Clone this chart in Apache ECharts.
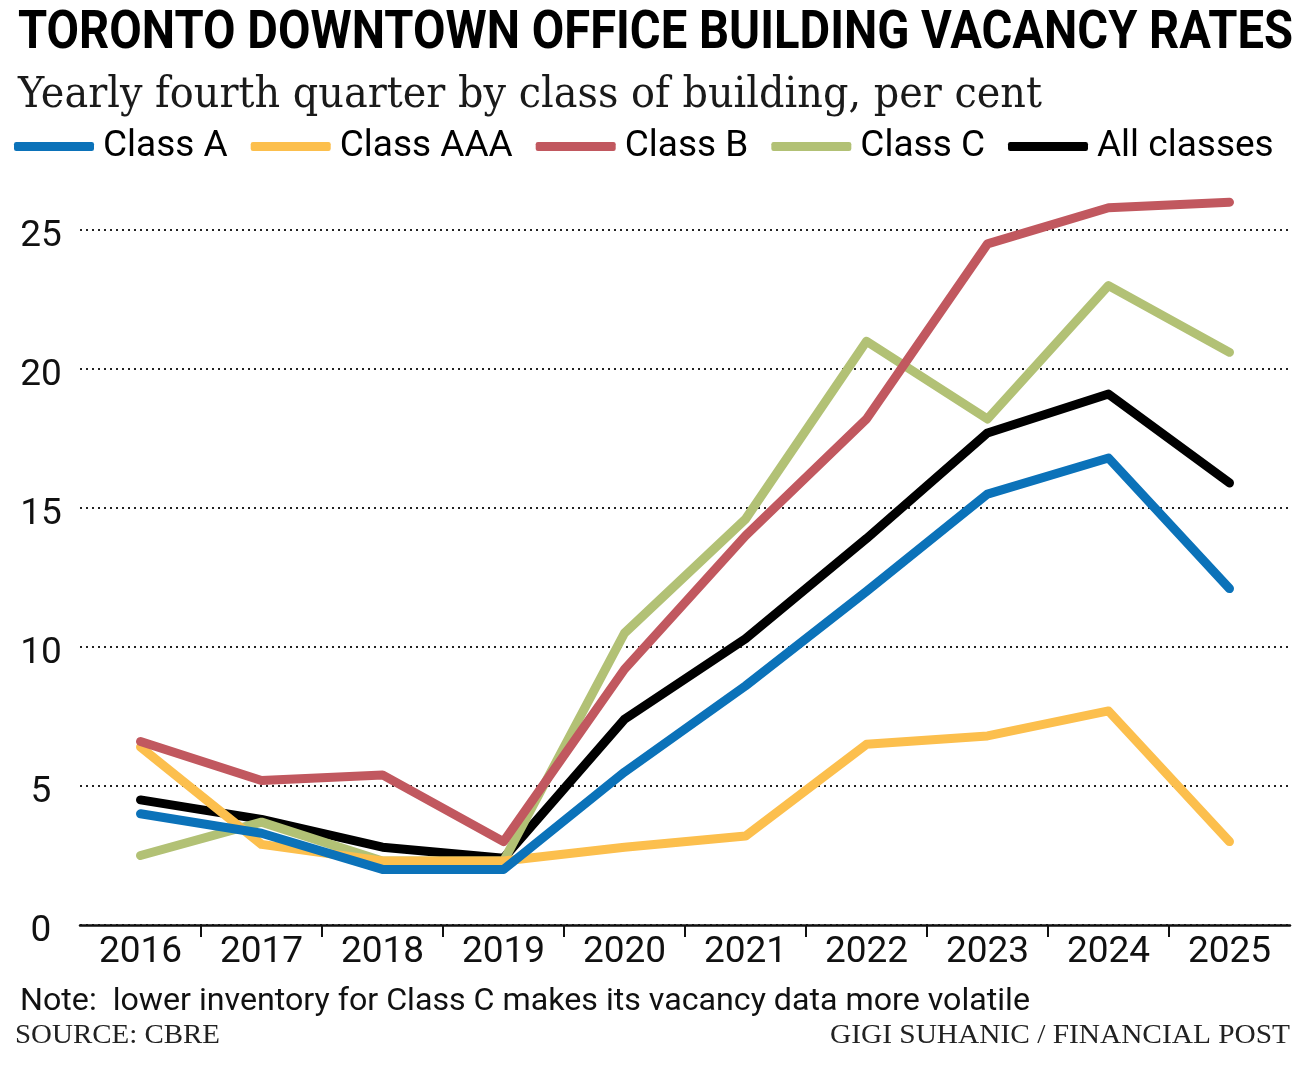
<!DOCTYPE html>
<html>
<head>
<meta charset="utf-8">
<script src="https://cdn.jsdelivr.net/npm/echarts@6/dist/echarts.min.js"></script>
<style>
  html, body { margin: 0; padding: 0; background: #fff; }
  #chart { width: 1304px; height: 1066px; }
</style>
</head>
<body>
<div id="chart"></div>
<script>
// ---- Data ----
const years = ['2016', '2017', '2018', '2019', '2020', '2021', '2022', '2023', '2024', '2025'];
const classA   = [4.0, 3.3, 2.0, 2.0, 5.5, 8.6, 12.0, 15.5, 16.8, 12.1];
const classAAA = [6.4, 2.9, 2.3, 2.3, 2.8, 3.2, 6.5, 6.8, 7.7, 3.0];
const classB   = [6.6, 5.2, 5.4, 3.0, 9.2, 14.0, 18.2, 24.5, 25.8, 26.0];
const classC   = [2.5, 3.7, 2.3, 2.3, 10.5, 14.6, 21.0, 18.2, 23.0, 20.6];
const allClasses = [4.5, 3.8, 2.8, 2.4, 7.4, 10.3, 13.9, 17.7, 19.1, 15.9];
const yTicks = [0, 5, 10, 15, 20, 25];
const seriesNames = ['Class A', 'Class AAA', 'Class B', 'Class C', 'All classes'];

const titleText = 'TORONTO DOWNTOWN OFFICE BUILDING VACANCY RATES';
const subtitleText = 'Yearly fourth quarter by class of building, per cent';
const noteText = 'Note:  lower inventory for Class C makes its vacancy data more volatile';
const sourceText = 'SOURCE: CBRE';
const creditText = 'GIGI SUHANIC / FINANCIAL POST';

const COLORS = {
  'Class A': '#0b72b9',
  'Class AAA': '#fcbf4d',
  'Class B': '#c1585f',
  'Class C': '#b2c175',
  'All classes': '#000000'
};
const SANS = 'Roboto, "Liberation Sans", sans-serif';
const SERIF_WIDE = '"DejaVu Serif", "Liberation Serif", serif';
const SERIF = '"Liberation Serif", "DejaVu Serif", serif';

// horizontal squeeze factor so a text run spans the width it has in the reference
const measureCtx = document.createElement('canvas').getContext('2d');
function fitScale(text, font, targetWidth) {
  measureCtx.font = font;
  const w = measureCtx.measureText(text).width;
  return w > 0 ? targetWidth / w : 1;
}
function textEl(text, font, x, y, targetWidth, align, fill) {
  return {
    type: 'text',
    x: x, y: y,
    scaleX: fitScale(text, font, targetWidth),
    silent: true,
    style: { text: text, font: font, fill: fill, align: align, verticalAlign: 'top' }
  };
}

// category boundaries for the small separator ticks
const boundaries = years.concat(['']);

function lineSeries(name, data, z) {
  return {
    name: name,
    type: 'line',
    data: data,
    xAxisIndex: 0,
    symbol: 'none',
    clip: false,
    z: z,
    color: COLORS[name],
    lineStyle: { width: 9, color: COLORS[name], cap: 'round', join: 'round' },
    emphasis: { disabled: true }
  };
}

const fTitle = 'bold 53px ' + SANS;
const fSub = 'normal 42px ' + SERIF_WIDE;
const fNote = 'normal 32px ' + SANS;
const fSrc = 'normal 27px ' + SERIF;

const chart = echarts.init(document.getElementById('chart'), null, { renderer: 'canvas' });
chart.setOption({
  animation: false,
  backgroundColor: '#ffffff',
  graphic: [
    textEl(titleText, fTitle, 18, 8, 1275, 'left', '#000'),
    textEl(subtitleText, fSub, 18, 75, 1024, 'left', '#1a1a1a'),
    textEl(noteText, fNote, 20, 986, 1010, 'left', '#111'),
    textEl(sourceText, fSrc, 15, 1022, 205, 'left', '#222'),
    textEl(creditText, fSrc, 1290, 1022, 460, 'right', '#222')
  ],
  legend: {
    data: seriesNames,
    left: 14,
    top: 128,
    width: 1290,
    padding: 0,
    itemGap: 23,
    itemWidth: 80,
    itemHeight: 9,
    icon: 'roundRect',
    selectedMode: false,
    textStyle: { fontFamily: SANS, fontSize: 37, color: '#000', padding: [0, 0, 0, 4] }
  },
  grid: { left: 80, right: 14, top: 230, bottom: 141, containLabel: false },
  xAxis: [
    {
      type: 'category',
      data: years,
      boundaryGap: true,
      axisLine: { show: true, onZero: false, lineStyle: { color: '#111', width: 2.5 } },
      axisTick: { show: false },
      axisLabel: { interval: 0, fontFamily: SANS, fontSize: 37, color: '#111', margin: 9 },
      splitLine: { show: false }
    },
    {
      type: 'category',
      data: boundaries,
      boundaryGap: false,
      position: 'bottom',
      offset: 2,
      axisLine: { show: false },
      axisTick: {
        show: true, length: 12,
        interval: function (i) { return i > 0 && i < years.length; },
        lineStyle: { color: '#111', width: 2 }
      },
      axisLabel: { show: false },
      splitLine: { show: false }
    }
  ],
  yAxis: {
    type: 'value',
    min: yTicks[0],
    max: yTicks[yTicks.length - 1],
    interval: yTicks[1] - yTicks[0],
    axisLine: { show: false },
    axisTick: { show: false },
    axisLabel: {
      fontFamily: SANS, fontSize: 37, color: '#111',
      align: 'center', verticalAlign: 'top', lineHeight: 13, margin: 39
    },
    splitLine: { show: true, lineStyle: { color: '#222', width: 2, type: [2, 4] } }
  },
  series: [
    lineSeries('All classes', allClasses, 3),
    lineSeries('Class C', classC, 4),
    lineSeries('Class AAA', classAAA, 5),
    lineSeries('Class B', classB, 6),
    lineSeries('Class A', classA, 7)
  ]
});
</script>
</body>
</html>
